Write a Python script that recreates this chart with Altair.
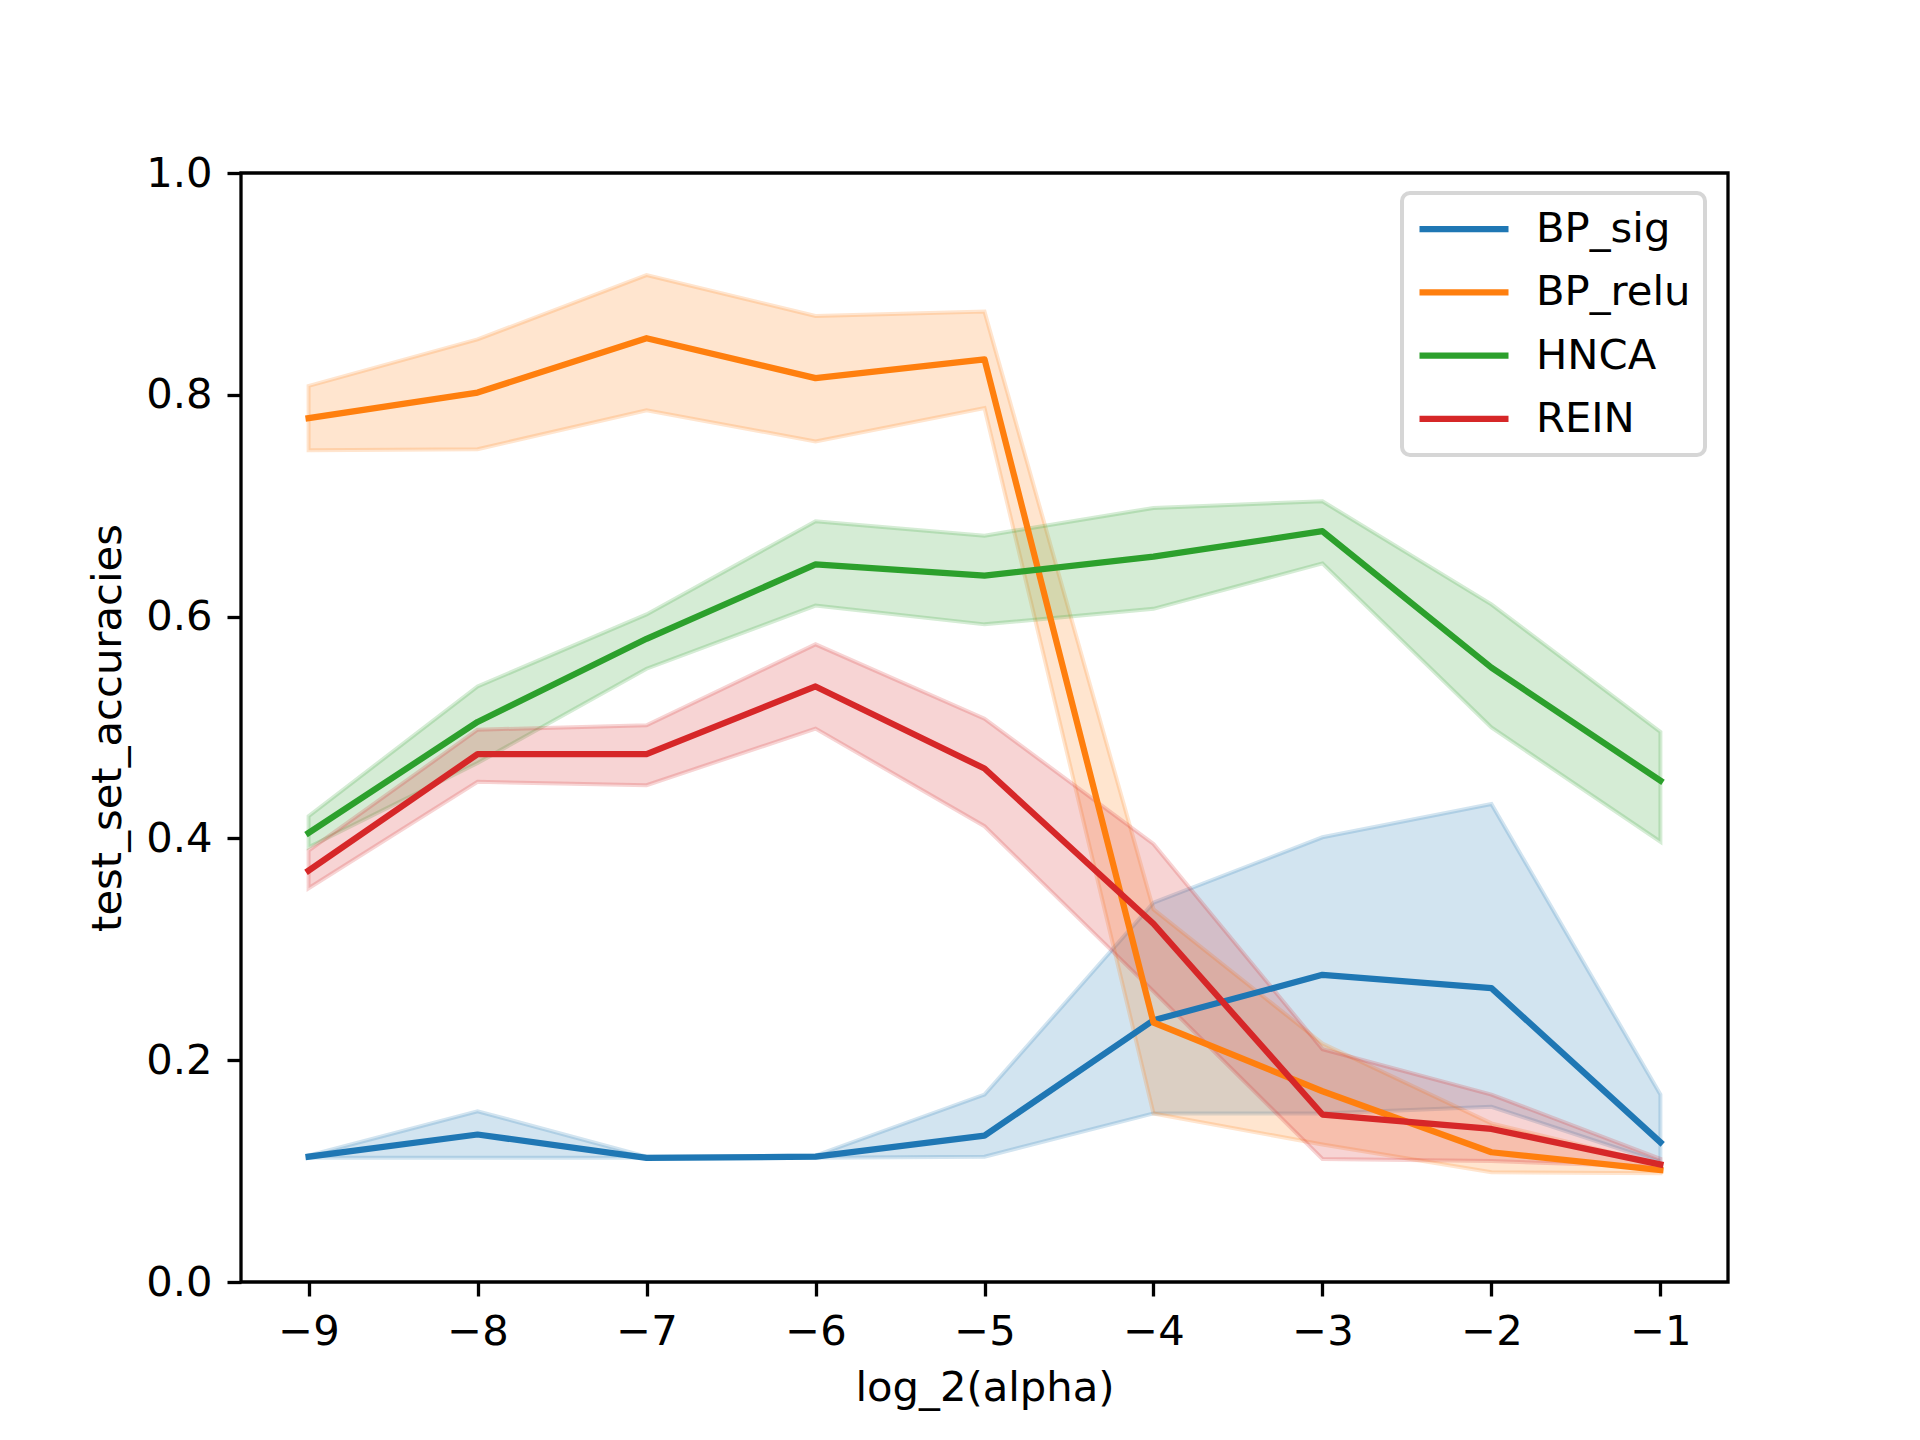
import altair as alt
import pandas as pd

x_vals = [-9, -8, -7, -6, -5, -4, -3, -2, -1]
series_names = ["BP_sig", "BP_relu", "HNCA", "REIN"]
series_colors = ["#1f77b4", "#ff7f0e", "#2ca02c", "#d62728"]

bp_sig_mean = [0.113, 0.133, 0.112, 0.113, 0.132, 0.236, 0.277, 0.265, 0.126]
bp_sig_lo = [0.112, 0.112, 0.112, 0.112, 0.113, 0.152, 0.152, 0.158, 0.108]
bp_sig_hi = [0.114, 0.154, 0.113, 0.114, 0.169, 0.342, 0.401, 0.431, 0.169]

bp_relu_mean = [0.779, 0.802, 0.851, 0.815, 0.832, 0.234, 0.172, 0.117, 0.101]
bp_relu_lo = [0.750, 0.751, 0.786, 0.758, 0.788, 0.152, 0.124, 0.099, 0.098]
bp_relu_hi = [0.808, 0.850, 0.908, 0.871, 0.875, 0.336, 0.215, 0.143, 0.106]

hnca_mean = [0.405, 0.505, 0.580, 0.647, 0.637, 0.654, 0.677, 0.554, 0.452]
hnca_lo = [0.392, 0.468, 0.553, 0.610, 0.593, 0.607, 0.648, 0.500, 0.397]
hnca_hi = [0.420, 0.537, 0.602, 0.686, 0.673, 0.698, 0.704, 0.611, 0.496]

rein_mean = [0.371, 0.476, 0.476, 0.537, 0.463, 0.323, 0.151, 0.138, 0.106]
rein_lo = [0.355, 0.451, 0.448, 0.499, 0.411, 0.262, 0.111, 0.109, 0.104]
rein_hi = [0.389, 0.498, 0.502, 0.575, 0.508, 0.395, 0.210, 0.169, 0.111]

series_data = {
    "BP_sig": (bp_sig_mean, bp_sig_lo, bp_sig_hi),
    "BP_relu": (bp_relu_mean, bp_relu_lo, bp_relu_hi),
    "HNCA": (hnca_mean, hnca_lo, hnca_hi),
    "REIN": (rein_mean, rein_lo, rein_hi),
}

rows = []
for i, name in enumerate(series_names):
    m, lo, hi = series_data[name]
    for j, xv in enumerate(x_vals):
        rows.append({"x": xv, "series": name, "band": name, "mean": m[j], "lo": lo[j], "hi": hi[j]})
df = pd.DataFrame(rows)

FONT = "DejaVu Sans"
FS = 41.7

x_enc = alt.X(
    "x:Q",
    scale=alt.Scale(domain=[-9.4, -0.6], nice=False, zero=False),
    axis=alt.Axis(values=x_vals, format="d", title="log_2(alpha)"),
)

area = alt.Chart(df).mark_area(
    fillOpacity=0.2, strokeOpacity=0.2, strokeWidth=4
).encode(
    x=x_enc,
    y=alt.Y("lo:Q", stack=None,
            scale=alt.Scale(domain=[0, 1], nice=False),
            axis=alt.Axis(values=[0, 0.2, 0.4, 0.6, 0.8, 1.0], format=".1f",
                          title="test_set_accuracies")),
    y2="hi:Q",
    fill=alt.Fill("band:N", sort=series_names, scale=alt.Scale(range=series_colors), legend=None),
    stroke=alt.Stroke("band:N", sort=series_names, scale=alt.Scale(range=series_colors), legend=None),
    detail="band:N",
)

line = alt.Chart(df).mark_line(
    strokeWidth=6.25, strokeJoin="round", strokeCap="square"
).encode(
    x=x_enc,
    y=alt.Y("mean:Q", scale=alt.Scale(domain=[0, 1], nice=False)),
    color=alt.Color(
        "series:N",
        scale=alt.Scale(domain=series_names, range=series_colors),
        legend=alt.Legend(
            title=None, orient="none", legendX=1161, legendY=20,
            symbolType="stroke", symbolSize=7921, symbolStrokeWidth=6.25,
            clipHeight=44, rowPadding=19.3, labelFontSize=FS, labelFont=FONT,
            labelOffset=24, padding=14, strokeColor="#d6d6d6", fillColor="white",
            cornerRadius=8, labelColor="black", symbolOpacity=1, labelLimit=400,
        ),
    ),
)

chart = alt.layer(area, line).properties(
    width=1487, height=1109,
    padding={"left": 233, "top": 165, "right": 184, "bottom": 150},
    autosize=alt.AutoSizeParams(type="none"),
).configure(font=FONT).configure_view(
    stroke="black", strokeWidth=3.3
).configure_axis(
    domain=False, grid=False,
    tickColor="black", tickWidth=3.3, tickSize=14,
    labelFont=FONT, labelFontSize=FS, labelColor="black", labelPadding=15,
    titleFont=FONT, titleFontSize=FS, titleFontWeight="normal", titleColor="black",
).configure_axisX(titlePadding=15).configure_axisY(titlePadding=16).configure_legend(
    strokeWidth=4
)

chart.save("out.html", embed_options={"renderer": "svg", "actions": False})
